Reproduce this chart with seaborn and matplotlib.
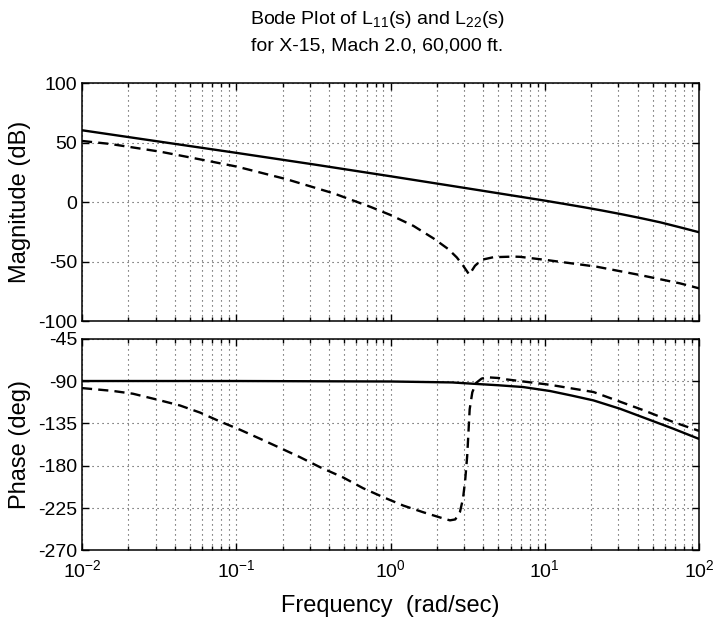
import matplotlib
matplotlib.use("Agg")
import matplotlib.pyplot as plt
import numpy as np
import pandas as pd
import seaborn as sns
from matplotlib.ticker import FixedLocator, LogLocator, NullFormatter

# ---- data -------------------------------------------------------------
# L11 magnitude (solid)
l11_mag_freq = [0.01, 0.0316, 0.1, 0.316, 1.0, 3.16, 10.0, 13.3, 17.8, 23.7,
                31.6, 42.2, 56.2, 75.0, 100.0]
l11_mag_db = [60.5, 51.0, 41.5, 31.8, 21.8, 11.6, 1.3, -1.4, -4.2, -7.1,
              -10.2, -13.5, -17.0, -21.1, -25.3]

# L11 phase (solid)
l11_ph_freq = [0.01, 0.1, 1.0, 2.5, 3.43, 5.0, 7.24, 10.8, 15.0, 20.7,
               30.8, 45.7, 68.2, 100.0]
l11_ph_deg = [-90.0, -90.0, -90.5, -91.5, -92.9, -94.5, -96.4, -100.6, -105.5,
              -110.6, -119.5, -130.0, -140.7, -151.5]

# L22 magnitude (dashed)
l22_mag_freq = [0.01, 0.0152, 0.0321, 0.0611, 0.101, 0.212, 0.426, 0.736, 1.0,
                1.41, 1.90, 2.37, 2.69, 2.96, 3.24, 3.53, 3.90, 4.65, 6.27,
                6.92, 10.3, 21.7, 41.4, 75.2, 100.0]
l22_mag_db = [51.5, 49.0, 42.5, 35.5, 29.9, 19.3, 7.5, -3.8, -10.8,
              -20.0, -30.5, -39.5, -46.5, -53.5, -61.0, -53.5, -48.5, -46.3, -45.8,
              -46.0, -48.7, -54.3, -61.3, -68.3, -72.5]

# L22 phase (dashed)
l22_ph_freq = [0.01, 0.0158, 0.0214, 0.0311, 0.0432, 0.0582, 0.0785, 0.106,
               0.143, 0.192, 0.259, 0.349, 0.494, 0.667, 0.898, 1.21, 1.63,
               2.20, 2.43, 2.63, 2.82, 2.95, 3.05, 3.14, 3.20, 3.26, 3.39,
               3.59, 3.89, 4.20, 5.01, 5.66, 10.8, 20.7, 29.2, 43.6, 68.2, 100.0]
l22_ph_deg = [-97.5, -100.5, -103.5, -110.0, -116.0, -123.5, -133.0, -141.8,
              -151.4, -161.0, -170.9, -181.5, -192.5, -204.0, -213.4, -222.3,
              -229.4, -236.0, -238.0, -237.0, -229.0, -215.0, -195.0, -170.0,
              -145.0, -120.0, -102.0, -92.0, -87.5, -86.0, -86.8, -88.3, -94.0,
              -101.7, -110.6, -121.0, -133.6, -143.0]

freq_ticks = [0.01, 0.1, 1.0, 10.0, 100.0]
freq_ticklabels = [r"$\mathregular{10^{-2}}$", r"$\mathregular{10^{-1}}$",
                   r"$\mathregular{10^{0}}$", r"$\mathregular{10^{1}}$",
                   r"$\mathregular{10^{2}}$"]
mag_ticks = [-100, -50, 0, 50, 100]
phase_ticks = [-270, -225, -180, -135, -90, -45]

title_line1 = r"Bode Plot of L$\mathregular{_{11}}$(s) and L$\mathregular{_{22}}$(s)"
title_line2 = "for X-15, Mach 2.0, 60,000 ft."

# ---- style ------------------------------------------------------------
sns.set_style("ticks")
plt.rcParams["font.family"] = ["Liberation Sans", "DejaVu Sans"]
plt.rcParams["mathtext.fontset"] = "custom"
plt.rcParams["mathtext.rm"] = "Liberation Sans"
plt.rcParams["mathtext.it"] = "Liberation Sans:italic"
plt.rcParams["axes.unicode_minus"] = False
for key in ("text.color", "axes.labelcolor", "xtick.color", "ytick.color",
            "axes.edgecolor"):
    plt.rcParams[key] = "black"

fig = plt.figure(figsize=(7.13, 6.19), dpi=100)
ax_mag = fig.add_axes([0.115, 0.4814, 0.8654, 0.3840])
ax_ph = fig.add_axes([0.115, 0.1107, 0.8654, 0.3422], sharex=ax_mag)

line_kw = dict(color="black", linewidth=1.7, estimator=None, sort=False)
dash = (0, (4.3, 2.6))

sns.lineplot(x=l11_mag_freq, y=l11_mag_db, ax=ax_mag, **line_kw)
sns.lineplot(x=l22_mag_freq, y=l22_mag_db, ax=ax_mag, linestyle=dash, **line_kw)
sns.lineplot(x=l11_ph_freq, y=l11_ph_deg, ax=ax_ph, **line_kw)
sns.lineplot(x=l22_ph_freq, y=l22_ph_deg, ax=ax_ph, linestyle=dash, **line_kw)

for ax in (ax_mag, ax_ph):
    ax.set_xscale("log")
    ax.set_xlim(0.01, 100)
    ax.xaxis.set_major_locator(FixedLocator(freq_ticks))
    ax.xaxis.set_minor_locator(LogLocator(base=10, subs=np.arange(2, 10)))
    ax.xaxis.set_minor_formatter(NullFormatter())
    ax.grid(True, which="major", axis="both", linestyle=(0, (1, 3.5)),
            color="0.25", linewidth=0.8)
    ax.grid(True, which="minor", axis="x", linestyle=(0, (1, 3.5)),
            color="0.25", linewidth=0.8)
    ax.tick_params(which="both", direction="in", top=True, right=True,
                   colors="black", labelsize=14, width=1)
    ax.tick_params(which="major", length=5)
    ax.tick_params(which="minor", length=3)
    for sp in ax.spines.values():
        sp.set_visible(True)
        sp.set_color("black")
        sp.set_linewidth(1.1)

ax_mag.set_ylim(-100, 100)
ax_mag.set_yticks(mag_ticks)
ax_mag.set_yticklabels([str(v) for v in mag_ticks])
ax_mag.tick_params(labelbottom=False)

ax_ph.set_ylim(-270, -45)
ax_ph.set_yticks(phase_ticks)
ax_ph.set_yticklabels([str(v) for v in phase_ticks])
ax_ph.set_xticks(freq_ticks)
ax_ph.set_xticklabels(freq_ticklabels)
ax_ph.tick_params(axis="x", pad=6)

ax_mag.set_ylabel("Magnitude (dB)", fontsize=17)
ax_ph.set_ylabel("Phase (deg)", fontsize=17)
ax_ph.set_xlabel("Frequency  (rad/sec)", fontsize=17, labelpad=10)
ax_mag.yaxis.set_label_coords(-0.083, 0.5)
ax_ph.yaxis.set_label_coords(-0.083, 0.5)

fig.text(0.529, 0.961, title_line1, ha="center", va="baseline", fontsize=14)
fig.text(0.529, 0.919, title_line2, ha="center", va="baseline", fontsize=14)

fig.savefig("out.png", dpi=100, facecolor="white")
